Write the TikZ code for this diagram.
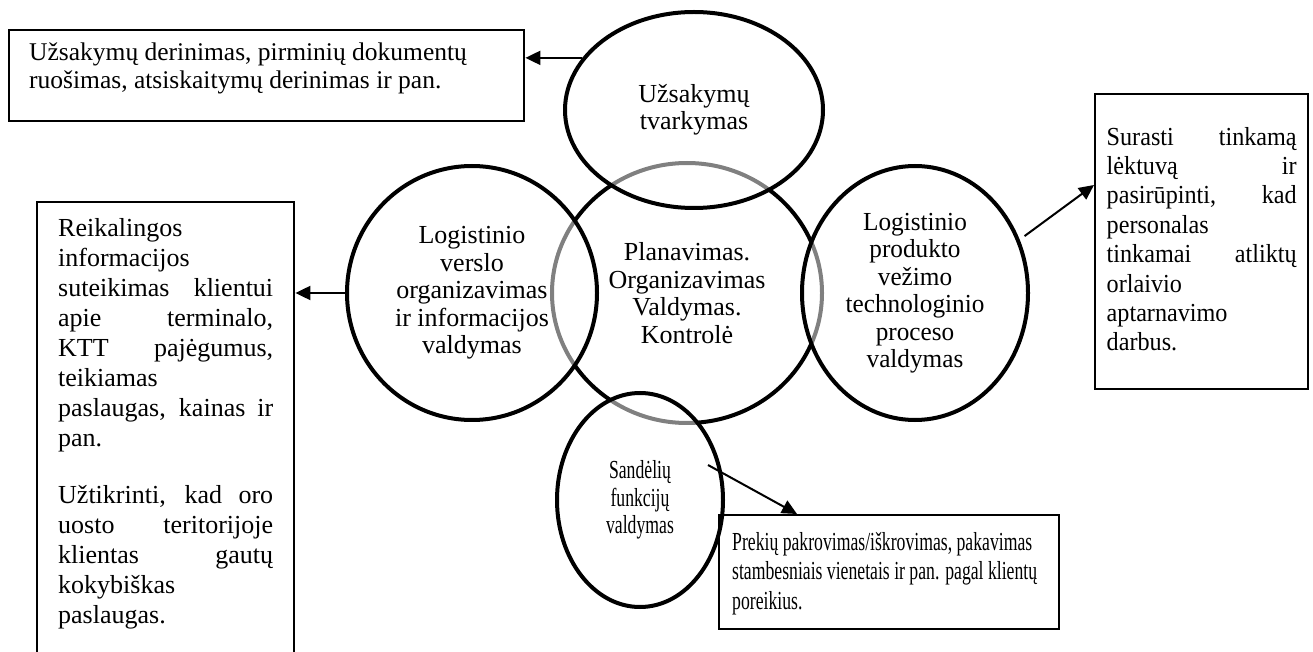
\documentclass[tikz,border=0pt]{standalone}
\usepackage{fontspec}
\setmainfont{Liberation Serif}
\newfontfamily\rightfont{Liberation Serif}[FakeStretch=0.97]
\newfontfamily\rboxfont{Liberation Serif}[FakeStretch=0.93]
\newfontfamily\narrowfont{Liberation Serif}[FakeStretch=0.68]
\usetikzlibrary{shapes.geometric,arrows.meta,calc}
\newcommand\jline[1]{\makebox[\linewidth][s]{#1}}
\begin{document}
\begin{tikzpicture}[x=0.5pt,y=-0.5pt,
  mid/.style={ellipse, draw=black, line width=2pt, inner sep=0pt, align=center,
    font=\fontsize{13}{13.75}\selectfont},
  circ/.style={ellipse, draw=black, line width=2pt, fill=white, fill opacity=0.5,
    text opacity=1, inner sep=0pt, align=center, font=\fontsize{13}{13.75}\selectfont},
  textbox/.style={draw=black, line width=1.2pt, inner ysep=0pt, anchor=north west},
  arr/.style={-{Triangle[length=7.5pt,width=7pt]}, line width=1pt}]
\useasboundingbox (0,0) rectangle (1313,652);

% centre circle (drawn first, the others veil it)
\node[mid, minimum width=135pt, minimum height=130pt] (mid) at (687,293)
  {Planavimas.\\Organizavimas\\Valdymas.\\Kontrolė};

\node[circ, minimum width=129pt, minimum height=98pt] (top) at (694,110)
  {Užsakymų\\tvarkymas};
\node[circ, minimum width=125pt, minimum height=127pt] (left) at (472,293)
  {Logistinio\\verslo\\organizavimas\\ir informacijos\\valdymas};
\node[circ, minimum width=113pt, minimum height=127pt,
  font=\rightfont\fontsize{13}{13.75}\selectfont] (right) at (915,293)
  {Logistinio\\produkto\\vežimo\\technologinio\\proceso\\valdymas};
\node[circ, minimum width=83pt, minimum height=107pt,
  font=\narrowfont\fontsize{13}{13.75}\selectfont] (bot) at (640,500)
  {Sandėlių\\funkcijų\\valdymas};

% text boxes
\node[textbox, inner xsep=10pt] (tb) at (8,29)
  {\parbox[t][45.5pt][t]{237.5pt}{\fontsize{12.75}{14}\selectfont\rule{0pt}{15pt}Užsakymų derinimas, pirminių dokumentų\\ruošimas, atsiskaitymų derinimas ir pan.}};

\node[textbox, inner xsep=10.5pt] (lb) at (36,201)
  {\parbox[t][231.5pt][t]{107.5pt}{\fontsize{13}{15}\selectfont\rule{0pt}{17pt}Reikalingos\\
   informacijos\\
   \jline{suteikimas klientui}\\
   \jline{apie terminalo,}\\
   \jline{KTT pajėgumus,}\\
   teikiamas\\
   \jline{paslaugas, kainas ir}\\
   pan.\\[13.5pt]
   \jline{Užtikrinti, kad oro}\\
   \jline{uosto teritorijoje}\\
   \jline{klientas gautų}\\
   kokybiškas\\
   paslaugas.}};

\node[textbox, inner xsep=5.75pt] (rb) at (1094,93)
  {\parbox[t][147.5pt][t]{95pt}{\rboxfont\fontsize{13}{14.7}\selectfont\rule{0pt}{25.5pt}\jline{Surasti tinkamą}\\
   \jline{lėktuvą ir}\\
   \jline{pasirūpinti, kad}\\
   personalas\\
   \jline{tinkamai atliktų}\\
   orlaivio\\
   aptarnavimo\\
   darbus.}};

\node[textbox, inner xsep=6.5pt] (bb) at (718,514)
  {\parbox[t][57pt][t]{157pt}{\narrowfont\fontsize{13}{14.75}\selectfont\rule{0pt}{17.5pt}Prekių pakrovimas/iškrovimas, pakavimas\\
   stambesniais vienetais ir pan. pagal klientų\\
   poreikius.}};

% connectors
\draw[arr] (top.155) -- (top.155 -| tb.east);
\draw[arr] (left.west) -- (left.west -| lb.east);
\draw[arr, shorten <=3pt] (right.27) -- ($(rb.north west)+(0,92)$);
\draw[arr] ($(bot.center)+(68,-35)$) -- ($(bb.north west)+(79,0)$);
\end{tikzpicture}
\end{document}
